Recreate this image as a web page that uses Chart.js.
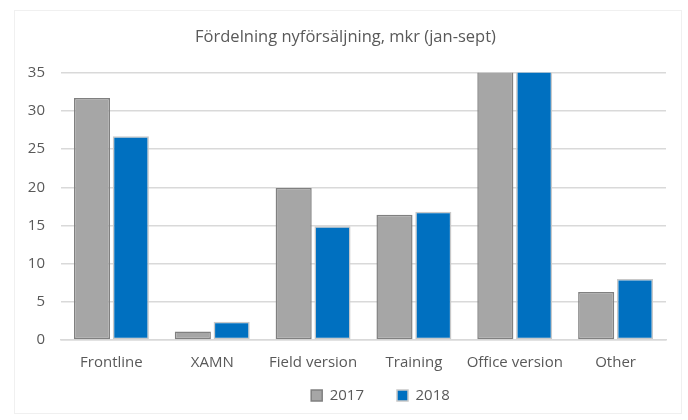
<!DOCTYPE html>
<html>
<head>
<meta charset="utf-8">
<script src="https://cdn.jsdelivr.net/npm/chart.js@4/dist/chart.umd.min.js"></script>
<style>
  html, body { margin: 0; padding: 0; background: #fff; }
  #wrap { position: absolute; left: 14px; top: 10px; width: 668px; height: 404px; border: 1px solid #f0f0f0; box-sizing: border-box; overflow: hidden; }
  #wrap canvas { position: absolute; left: 0; top: 0; }
</style>
</head>
<body>
<div id="wrap"><canvas id="myChart" width="668" height="425"></canvas></div>
<script>
// chart data
const categories = ['Frontline', 'XAMN', 'Field version', 'Training', 'Office version', 'Other'];
const values2017 = [31.7, 1.1, 19.9, 16.4, 38, 6.3];
const values2018 = [26.7, 2.4, 14.9, 16.8, 40, 8.0];
const yTicks = [0, 5, 10, 15, 20, 25, 30, 35];

document.addEventListener('DOMContentLoaded', function () {
    const fontFamily = "'Open Sans', 'Noto Sans', sans-serif";
    const textColor = '#595959';

    // legend sits a bit right of centre and closer to the axis in the original
    const legendShift = {
        id: 'legendShift',
        afterLayout: function (chart) {
            chart.legend.left += 35;
            chart.legend.right += 35;
            chart.legend.top -= 23;
            chart.legend.bottom -= 23;
        }
    };

    const ctx = document.getElementById('myChart').getContext('2d');
    window.myChart = new Chart(ctx, {
        type: 'bar',
        data: {
            labels: categories,
            datasets: [
                {
                    label: '2017',
                    data: values2017,
                    backgroundColor: '#a6a6a6',
                    borderColor: '#808080',
                    borderWidth: 1.5,
                    borderSkipped: false
                },
                {
                    label: '2018',
                    data: values2018,
                    backgroundColor: '#0070c0',
                    borderColor: '#c8c8c8',
                    borderWidth: 1.5,
                    borderSkipped: false
                }
            ]
        },
        plugins: [legendShift],
        options: {
            responsive: false,
            animation: false,
            categoryPercentage: 0.77,
            barPercentage: 0.93,
            layout: { padding: { left: 10, right: 17, top: 4, bottom: 0 } },
            plugins: {
                title: {
                    display: true,
                    text: 'Fördelning nyförsäljning, mkr (jan-sept)',
                    color: textColor,
                    font: { family: fontFamily, size: 16.5, weight: 'normal' },
                    padding: { top: 12, bottom: 26 }
                },
                legend: {
                    position: 'bottom',
                    labels: {
                        color: textColor,
                        font: { family: fontFamily, size: 15 },
                        boxWidth: 11,
                        boxHeight: 11,
                        padding: 33
                    }
                },
                tooltip: { enabled: false }
            },
            scales: {
                x: {
                    grid: { display: false },
                    border: { color: '#d9d9d9', width: 1.5 },
                    ticks: {
                        color: textColor,
                        font: { family: fontFamily, size: 15 },
                        padding: 6,
                        maxRotation: 0
                    }
                },
                y: {
                    min: 0,
                    max: 35,
                    afterBuildTicks: function (axis) {
                        axis.ticks = yTicks.map(v => ({ value: v }));
                    },
                    grid: { color: '#d9d9d9', lineWidth: 1.5, drawTicks: false },
                    border: { display: false },
                    ticks: {
                        color: textColor,
                        font: { family: fontFamily, size: 15 },
                        padding: 16
                    },
                    afterFit: function (axis) { axis.width = 36; }
                }
            }
        }
    });
});
</script>
</body>
</html>
